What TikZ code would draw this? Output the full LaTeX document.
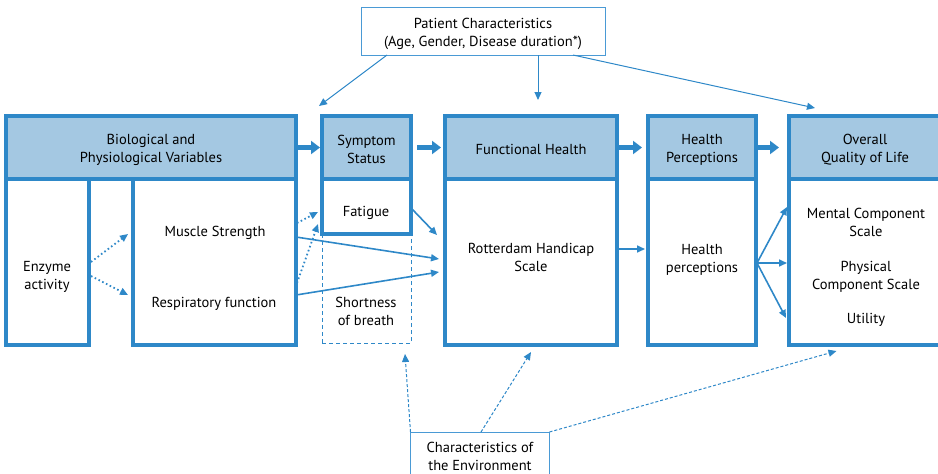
\documentclass[tikz,border=0pt]{standalone}
\usepackage{fontspec}
\setmainfont{PT Sans}
\usetikzlibrary{arrows.meta,calc}
\definecolor{bl}{HTML}{2E88C8}
\definecolor{hf}{HTML}{A4C8E2}
\definecolor{lb}{HTML}{4A9AD5}
\begin{document}
\begin{tikzpicture}[x=1pt,y=-1pt,
  every node/.style={font=\fontsize{14.5}{18}\selectfont, align=center, inner sep=0pt, outer sep=0pt, text=black},
  hdr/.style={draw=bl, fill=hf, line width=3.5pt, minimum height=63},
  bodybox/.style={draw=bl, fill=white, line width=3.5pt},
  thinbox/.style={draw=lb, fill=white, line width=1pt},
  thk/.style={draw=bl, line width=4.5pt, -{Triangle[length=9pt,width=13pt]}},
  arr/.style={draw=bl, line width=1.6pt, -{Triangle[length=8pt,width=7pt]}},
  dotarr/.style={draw=bl, line width=1.8pt, dash pattern=on 1.6pt off 2.6pt, -{Triangle[length=8pt,width=7pt]}},
  patarr/.style={draw=bl, line width=1pt, -{Triangle[length=8pt,width=7pt]}},
  envarr/.style={draw=bl, line width=1pt, dash pattern=on 3pt off 2pt, -{Triangle[length=8pt,width=7pt]}}]
\useasboundingbox (0,0) rectangle (938,474);
\clip (0,0) rectangle (938,474);

% Patient characteristics
\node[thinbox, minimum width=244, minimum height=48] (pat) at (483,31) {};
\node (patT) at (483,33.5) {Patient Characteristics\\(Age, Gender, Disease duration*)};

% Biological
\node[bodybox, minimum width=83, minimum height=166] (enz) at (47.5,262) {};
\node (enzT) at (47,277) {Enzyme\\activity};
\node[bodybox, minimum width=163, minimum height=166] (mus) at (214.5,262) {};
\node (musT) at (215,232.5) {Muscle Strength};
\node (resT) at (214,304) {Respiratory function};
\node[hdr, minimum width=290] (bioH) at (151,147.5) {};
\node (bioT) at (151,150) {Biological and\\Physiological Variables};

% Symptom
\node[draw=bl, line width=1pt, dash pattern=on 4pt off 3pt, minimum width=89, minimum height=109] (sob) at (366.5,288.5) {};
\node (sobT) at (366,311) {Shortness\\of breath};
\node[bodybox, minimum width=89, minimum height=55] (fat) at (366.5,206.5) {};
\node (fatT) at (366,213) {Fatigue};
\node[hdr, minimum width=89] (symH) at (366.5,147.5) {};
\node (symT) at (366.5,149.5) {Symptom\\Status};

% Functional
\node[bodybox, minimum width=172, minimum height=166] (fun) at (531,262) {};
\node (funT) at (531,257.5) {Rotterdam Handicap\\Scale};
\node[hdr, minimum width=172] (funH) at (531,147.5) {};
\node (funHT) at (531,149) {Functional Health};

% Health perceptions
\node[bodybox, minimum width=108, minimum height=166] (hp) at (702,262) {};
\node (hpT) at (702,260) {Health\\perceptions};
\node[hdr, minimum width=108] (hpH) at (702,147.5) {};
\node (hpHT) at (702,149.5) {Health\\Perceptions};

% Overall
\node[bodybox, minimum width=153, minimum height=166] (ov) at (865.5,262) {};
\node (ovM) at (866,222.5) {Mental Component\\Scale};
\node (ovP) at (866,276.5) {Physical\\Component Scale};
\node (ovU) at (866,320) {Utility};
\node[hdr, minimum width=153] (ovH) at (865.5,147.5) {};
\node (ovHT) at (865,149.5) {Overall\\Quality of Life};

% Environment
\node[thinbox, minimum width=139, minimum height=46] (env) at (480,455) {};
\node (envT) at (480,456) {Characteristics of\\the Environment};

% thick arrows
\draw[thk] (bioH.east) -- ($(symH.west)+(-2,0)$);
\draw[thk] ($(symH.east)+(6,0)$) -- ($(funH.west)+(-4,0)$);
\draw[thk] ($(funH.east)+(2,0)$) -- ($(hpH.west)+(-6,0)$);
\draw[thk] ($(hpH.east)+(0,0)$) -- ($(ovH.west)+(-10,0)$);

% patient arrows
\draw[patarr] ($(pat.south west)+(26,0)$) -- ($(symH.north west)+(-3,-10)$);
\draw[patarr] ($(pat.south)+(55,0)$) -- ($(funH.north)+(7,-16)$);
\draw[patarr] ($(pat.south east)+(-32,0)$) -- ($(ovH.north west)+(26,-8)$);

% dotted arrows
\draw[dotarr] ($(enz.east)+(2,0)$) -- ($(mus.west)+(-5,-28)$);
\draw[dotarr] ($(enz.east)+(2,14)$) -- ($(mus.west)+(-5,33)$);
\draw[dotarr] ($(mus.north east)+(1,44)$) -- ($(fat.west)+(-4,5.5)$);
\draw[dotarr] ($(mus.north east)+(1,104)$) -- ($(fat.south west)+(-4,-10)$);

% solid arrows
\draw[arr] ($(mus.north east)+(0,58)$) -- ($(fun.west)+(-6,-3)$);
\draw[arr] ($(mus.north east)+(0,116)$) -- ($(fun.west)+(-6,10)$);
\draw[arr] ($(fat.east)+(1,2.5)$) -- ($(fun.north west)+(-8,56)$);
\draw[arr] ($(fun.east)+(0,-13)$) -- ($(hp.west)+(-3,-13)$);
\draw[arr] ($(hp.east)+(1,1)$) -- ($(ov.west)+(-2,-55)$);
\draw[arr] ($(hp.east)+(1,1)$) -- ($(ov.west)+(-2,1)$);
\draw[arr] ($(hp.east)+(1,1)$) -- ($(ov.west)+(-3,56)$);

% environment arrows
\draw[envarr] (env.north west) -- ($(sob.south east)+(-6,11)$);
\draw[envarr] ($(env.north)+(1,0)$) -- ($(fun.south)+(0,7)$);
\draw[envarr] (env.north east) -- ($(ov.south)+(-29,6)$);
\end{tikzpicture}
\end{document}
